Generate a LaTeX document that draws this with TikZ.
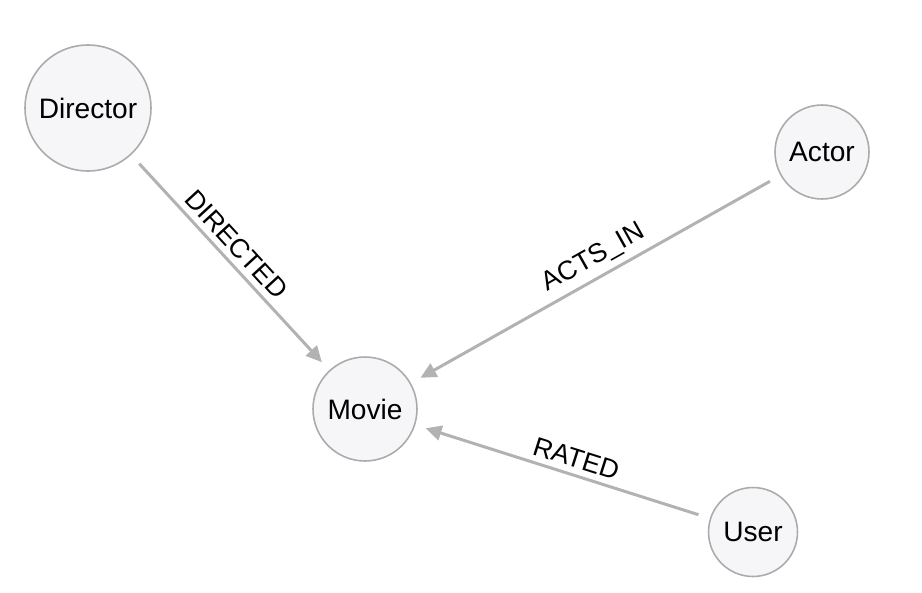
\documentclass[tikz,border=0pt]{standalone}
\usepackage{fontspec}
\setmainfont{Liberation Sans}
\usetikzlibrary{arrows.meta}
\definecolor{edgegray}{HTML}{B2B2B2}
\definecolor{nodefill}{HTML}{F6F6F8}
\definecolor{nodeline}{HTML}{ABABAB}

\begin{document}
\begin{tikzpicture}[x=0.02cm, y=-0.02cm,
  entity/.style={circle, draw=nodeline, line width=0.9pt, fill=nodefill, inner sep=0pt,
    font=\fontsize{16}{19}\selectfont},
  rel/.style={draw=edgegray, line width=1.7pt, -{Triangle[length=9pt, width=8.5pt]},
    shorten <=6.8pt, shorten >=6.2pt},
  rlabel/.style={font=\fontsize{15.2}{18}\selectfont, sloped, above}]
  \useasboundingbox (0,0) rectangle (922,592);
  % Entities
  \node[entity, minimum size=2.52cm] (director) at (88,108) {Director};
  \node[entity, minimum size=1.88cm] (actor) at (822,152) {Actor};
  \node[entity, minimum size=2.08cm] (movie) at (365,409) {Movie};
  \node[entity, minimum size=1.78cm] (user) at (753,532) {User};
  % Relationships
  \draw[rel] (director) -- node[rlabel, pos=0.47] {DIRECTED} (movie);
  \draw[rel] (actor) -- node[rlabel, pos=0.48] {ACTS\_IN} (movie);
  \draw[rel] (user) -- node[rlabel, pos=0.47] {RATED} (movie);
\end{tikzpicture}
\end{document}
